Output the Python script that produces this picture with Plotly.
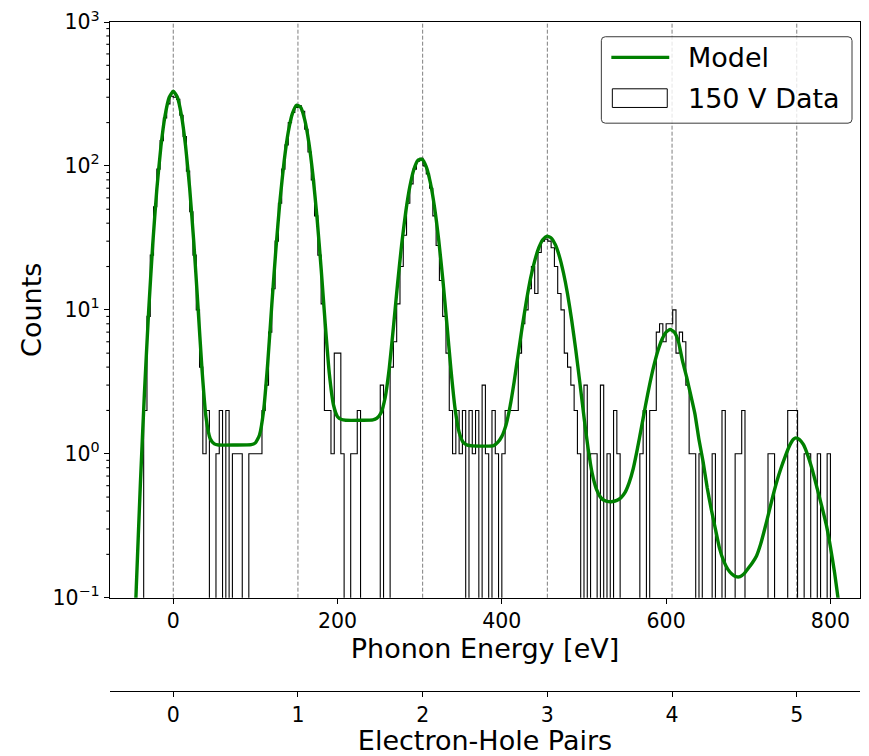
import math
import plotly.graph_objects as go

# ---------------- data ----------------
BIN_START = -36.0          # eV, left edge of first histogram bin
BIN_WIDTH = 4.0            # eV
counts = [
    2, 9, 24, 52, 95, 150, 215, 270, 305, 300, 290, 225, 160, 92, 48, 24, 10, 4, 1, 2,      # -36 .. 40
    0, 0, 1, 2, 0, 2, 0, 1, 1, 1, 0, 0, 1, 1, 1, 1, 2,                                       # 44 .. 108
    3, 7, 14, 30, 55, 95, 140, 200, 235, 255, 262, 240, 180, 125, 80, 45, 24, 11, 2,         # 112 .. 184
    2, 1, 5, 5, 1, 0, 0, 1, 1, 2, 0, 0, 0, 0, 0, 0, 3, 0, 0,                                 # 188 .. 260
    4, 6, 11, 20, 33, 55, 75, 95, 108, 113, 100, 88, 70, 45, 28, 16, 9, 5,                   # 264 .. 332
    2, 1, 2, 1, 2, 0, 2, 1, 2, 0, 3, 1, 0, 2, 1, 0, 1, 2, 2, 2, 2,                           # 336 .. 416
    5, 8, 10, 14, 20, 13, 25, 30, 31, 30, 27, 20, 13, 10,                                    # 420 .. 472
    5, 4, 3, 2, 1, 0, 3, 0, 1, 1, 0, 3, 0, 1, 0, 2, 1,                                       # 476 .. 540
    0, 0, 0, 0, 0, 0, 1, 2, 0, 2, 2,                                                         # 544 .. 584
    7, 8, 6, 8, 8, 10, 5, 7, 6, 3, 1, 1, 0, 1,                                               # 588 .. 640
    0, 0, 0, 1, 0, 0, 2, 0, 0, 0, 1, 1, 2, 0, 0, 0, 0, 0, 0, 0, 1, 1, 0, 0, 0,              # 644 .. 740
    0, 2, 2, 2, 0, 0, 1, 1, 0, 0, 1, 0, 0, 1,                                                # 744 .. 796
]

model_energy = [
    -47, -45, -40, -35, -30, -25, -20, -15, -10, -5, 0, 5, 10, 15, 20, 25, 30, 35, 40, 45, 50, 55, 75, 95,
    100, 105, 110, 115, 120, 125, 130, 135, 140, 145, 150, 155, 160, 165, 170, 175, 180, 185, 190, 195,
    200, 205, 210, 230,
    243, 248, 253, 258, 263, 268, 273, 278, 283, 288, 293, 298, 303, 308, 313, 318, 323, 328, 333, 338,
    343, 348, 353, 358, 375, 390,
    395, 400, 405, 410, 415, 420, 425, 430, 435, 440, 445, 450, 455, 460, 465, 470, 475, 480, 485, 490,
    495, 500, 505, 510, 515, 520, 525, 530, 535, 540, 545, 550,
    555, 560, 565, 570, 575, 580, 585, 590, 595, 600, 605, 610, 615, 620, 625, 630, 635, 640, 645, 650,
    655, 660, 665, 670, 675, 680, 685, 690, 695, 700, 705, 710,
    715, 720, 725, 730, 735, 740, 745, 750, 755, 758, 762, 767, 772, 778, 784, 790, 795, 800, 805, 810, 815,
]
model_counts = [
    0.057, 0.118, 0.62, 2.7, 9.7, 28.4, 68.7, 136.6, 223, 299, 330, 300, 224, 137.6, 69.8, 29.5, 10.8, 3.85,
    1.77, 1.27, 1.17, 1.15, 1.15, 1.156,
    1.19, 1.35, 2.0, 4.27, 10.9, 26.6, 58, 108, 172, 231, 264, 256, 210, 146, 86.4, 43.8, 19.4, 8.0, 3.6,
    2.19, 1.81, 1.73, 1.71, 1.71,
    1.72, 1.77, 1.93, 2.46, 3.95, 7.56, 15.0, 28.3, 47.9, 71.9, 94.9, 109.7, 111.1, 98.4, 76.4, 51.9, 31.1,
    16.6, 8.1, 3.87, 2.07, 1.41, 1.20, 1.15, 1.13, 1.14,
    1.20, 1.32, 1.58, 2.13, 3.17, 4.96, 7.74, 11.6, 16.6, 21.9, 27.0, 30.8, 32.5, 31.6, 28.4, 23.6, 18.1,
    12.9, 8.5, 5.27, 3.11, 1.80, 1.09, 0.73, 0.57, 0.50, 0.473, 0.465, 0.466, 0.474, 0.495, 0.539,
    0.63, 0.79, 1.08, 1.53, 2.18, 3.04, 4.08, 5.2, 6.24, 7.0, 7.3, 7.0, 6.0, 4.4, 3.4, 2.55, 1.9, 1.25,
    0.88, 0.58, 0.41, 0.30, 0.22, 0.18, 0.158, 0.146, 0.14, 0.14, 0.147, 0.16, 0.175, 0.195,
    0.235, 0.30, 0.39, 0.51, 0.65, 0.80, 0.96, 1.13, 1.26, 1.29, 1.26, 1.16, 0.99, 0.77, 0.57, 0.42, 0.32,
    0.225, 0.15, 0.092, 0.05,
]

PAIR_ENERGY = 151.8                     # eV per electron-hole pair
pair_ticks = [0, 1, 2, 3, 4, 5]
energy_ticks = [0, 200, 400, 600, 800]
count_tickvals = [0.1, 1, 10, 100, 1000]
count_ticktext = ["10<sup>\u22121</sup>", "10<sup>0</sup>", "10<sup>1</sup>",
                  "10<sup>2</sup>", "10<sup>3</sup>"]
minor_mantissas = [2, 3, 4, 5, 6, 7, 8, 9]
X_RANGE = [-77, 836]
Y_LOG_RANGE = [-1, 3]
legend_labels = ["Model", "150 V Data"]

# ---------------- geometry helpers (figure pixels -> paper) ----------------
W, H = 869, 756
ML, MR, MT, MB = 110, 8, 18, 57
PW, PH = W - ML - MR, H - MT - MB
def fx(px):
    return (px - ML) / PW
def fy(py):
    return (H - MB - py) / PH
Y_DOMAIN_BOTTOM = fy(604)

# ---------------- traces ----------------
FLOOR = 1e-2
edges = [BIN_START + BIN_WIDTH * i for i in range(len(counts) + 1)]
hx, hy = [edges[0]], [FLOOR]
for i, c in enumerate(counts):
    v = c if c > 0 else FLOOR
    hx += [edges[i], edges[i + 1]]
    hy += [v, v]
hx.append(edges[-1])
hy.append(FLOOR)

fig = go.Figure()
fig.add_trace(go.Scatter(x=hx, y=hy, mode="lines", line=dict(color="black", width=1.1),
                         name=legend_labels[1], showlegend=False, hoverinfo="skip"))
fig.add_trace(go.Scatter(x=model_energy, y=model_counts, mode="lines",
                         line=dict(color="#008000", width=3.4, shape="spline", smoothing=0.5),
                         name=legend_labels[0], showlegend=False))
# invisible helper trace so the electron-hole pair axis is drawn
fig.add_trace(go.Scatter(x=[pair_ticks[0], pair_ticks[-1]], y=[1e-3, 1e-3], xaxis="x2", yaxis="y",
                         mode="lines", line=dict(width=0), showlegend=False, hoverinfo="skip"))

# vertical dashed lines at integer numbers of electron-hole pairs
shapes = []
for n in pair_ticks:
    shapes.append(dict(type="line", xref="x", yref="y domain", x0=n * PAIR_ENERGY, x1=n * PAIR_ENERGY,
                       y0=0, y1=1, line=dict(color="#7f7f7f", width=1, dash="4px,2px"), layer="below"))

# minor ticks of the log count axis (outside the left spine), in paper coordinates
minor_vals = [m * v for v in count_tickvals[:-1] for m in minor_mantissas]
span = Y_LOG_RANGE[1] - Y_LOG_RANGE[0]
for v in minor_vals:
    f = (math.log10(v) - Y_LOG_RANGE[0]) / span
    py = Y_DOMAIN_BOTTOM + f * (1 - Y_DOMAIN_BOTTOM)
    shapes.append(dict(type="line", xref="paper", yref="paper", x0=fx(106.3), x1=fx(110), y0=py, y1=py,
                       line=dict(color="black", width=1.1), layer="above"))

# hand-drawn legend (matplotlib style)
lx0, lx1, ly0, ly1, r = 602, 853, 33, 121, 4
rx, ry = r / PW, r / PH
X0, X1, Y0, Y1 = fx(lx0), fx(lx1), fy(ly1), fy(ly0)
path = (f"M{X0+rx},{Y0} L{X1-rx},{Y0} Q{X1},{Y0} {X1},{Y0+ry} L{X1},{Y1-ry} Q{X1},{Y1} {X1-rx},{Y1} "
        f"L{X0+rx},{Y1} Q{X0},{Y1} {X0},{Y1-ry} L{X0},{Y0+ry} Q{X0},{Y0} {X0+rx},{Y0} Z")
shapes.append(dict(type="path", xref="paper", yref="paper", path=path,
                   fillcolor="rgba(255,255,255,0.8)", line=dict(color="#3a3a3a", width=1), layer="above"))
shapes.append(dict(type="line", xref="paper", yref="paper", x0=fx(612), x1=fx(670), y0=fy(54), y1=fy(54),
                   line=dict(color="#008000", width=3.4), layer="above"))
shapes.append(dict(type="rect", xref="paper", yref="paper", x0=fx(613), x1=fx(668), y0=fy(105), y1=fy(86),
                   fillcolor="white", line=dict(color="black", width=1), layer="above"))

annotations = [
    dict(xref="paper", yref="paper", x=fx(687), y=fy(54), text=legend_labels[0], showarrow=False,
         xanchor="left", yanchor="middle", font=dict(size=27, color="black")),
    dict(xref="paper", yref="paper", x=fx(687), y=fy(96), text=legend_labels[1], showarrow=False,
         xanchor="left", yanchor="middle", font=dict(size=27, color="black")),
]

axis_common = dict(showgrid=False, zeroline=False, showline=True, linecolor="black", linewidth=1.3,
                   ticks="outside", tickcolor="black", tickwidth=1.3, ticklen=5,
                   tickfont=dict(size=20.5, color="black"))

fig.update_layout(
    width=W, height=H,
    margin=dict(l=ML, r=MR, t=MT, b=MB, pad=0),
    paper_bgcolor="white", plot_bgcolor="white",
    font=dict(family="DejaVu Sans", color="black"),
    showlegend=False,
    shapes=shapes,
    annotations=annotations,
    xaxis=dict(range=X_RANGE, domain=[0, 1], anchor="y", mirror=True,
               tickmode="array", tickvals=energy_ticks,
               title=dict(text="Phonon Energy [eV]", font=dict(size=27), standoff=2),
               **axis_common),
    xaxis2=dict(range=[X_RANGE[0] / PAIR_ENERGY, X_RANGE[1] / PAIR_ENERGY], overlaying="x",
                anchor="free", position=0, side="bottom",
                tickmode="array", tickvals=pair_ticks,
                title=dict(text="Electron-Hole Pairs", font=dict(size=27), standoff=2),
                **axis_common),
    yaxis=dict(type="log", range=Y_LOG_RANGE, domain=[Y_DOMAIN_BOTTOM, 1], anchor="x", mirror=True,
               tickmode="array", tickvals=count_tickvals, ticktext=count_ticktext,
               title=dict(text="Counts", font=dict(size=27), standoff=3),
               **axis_common),
)

fig.write_html("out.html")
